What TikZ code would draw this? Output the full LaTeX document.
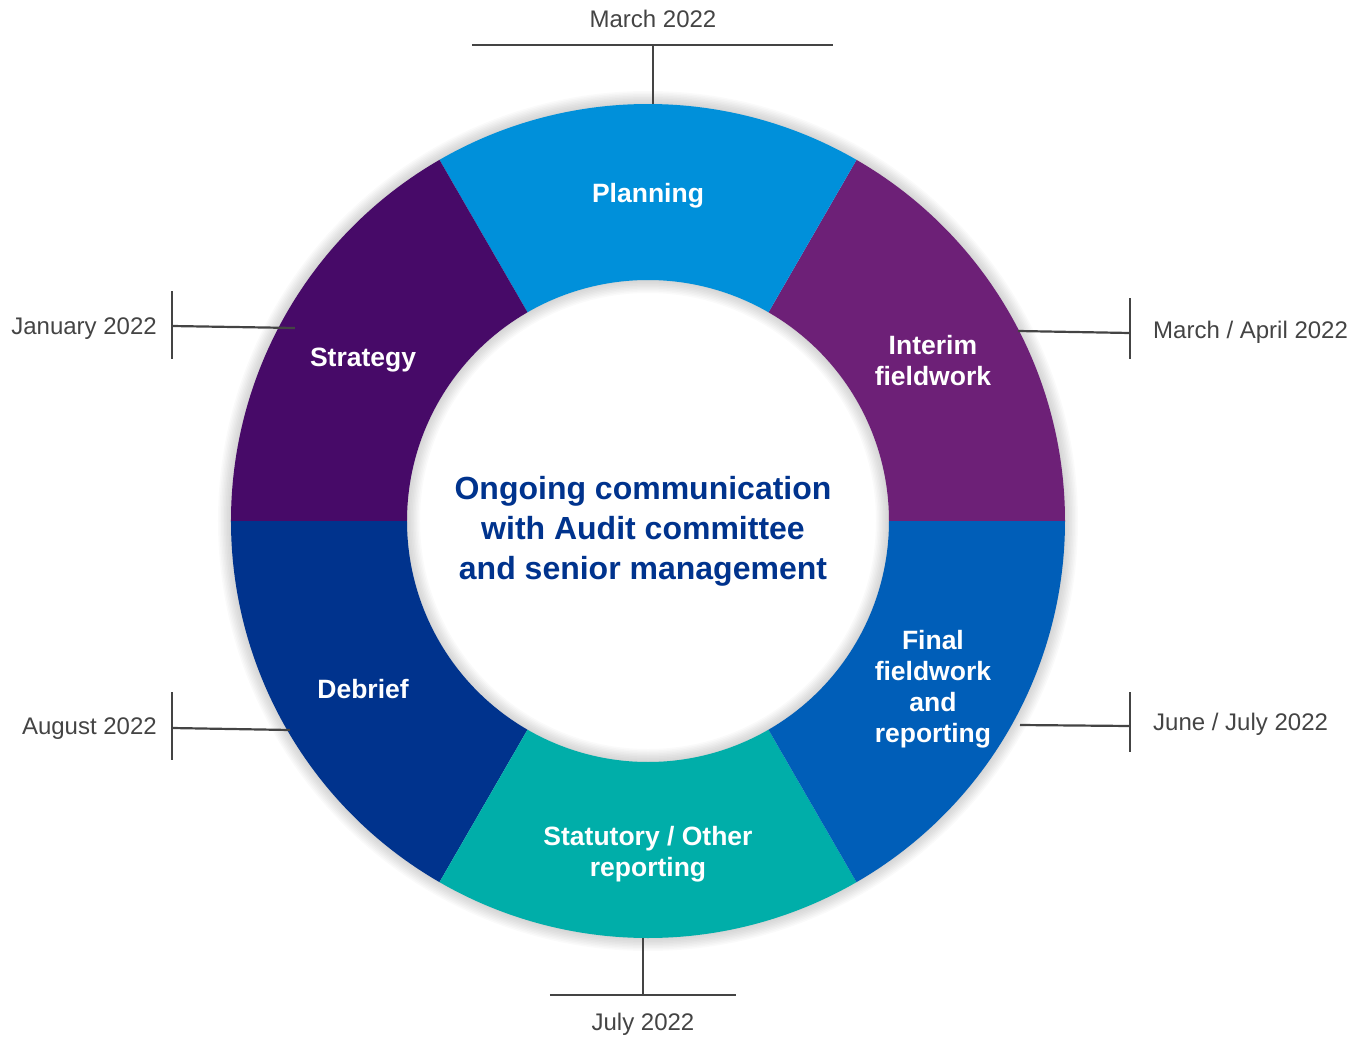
\documentclass[tikz,border=0pt]{standalone}
\usepackage{fontspec}
\setmainfont{Liberation Sans}
\definecolor{planblue}{HTML}{0090DA}
\definecolor{stratviolet}{HTML}{470A68}
\definecolor{interimpurple}{HTML}{6D2077}
\definecolor{finalblue}{HTML}{005EB8}
\definecolor{statteal}{HTML}{00AEA9}
\definecolor{debriefblue}{HTML}{00338D}
\definecolor{dategray}{HTML}{444444}
\tikzset{
  seglabel/.style={text=white,align=center,yshift=-4pt,font=\fontsize{26.5}{31}\selectfont\bfseries},
  datelabel/.style={text=dategray,inner sep=0pt,font=\fontsize{24}{28}\selectfont},
  tick/.style={draw=dategray,line width=2.2pt}
}
\begin{document}
\begin{tikzpicture}[x=1pt,y=1pt]
\useasboundingbox (-648,-516) rectangle (704,521);
\foreach \w in {2,5,...,26}
  {\draw[black,opacity=0.02,line width=\w pt] (0,0) circle (417pt);
   \draw[black,opacity=0.02,line width=\w pt] (0,0) circle (241pt);}
\foreach \a/\c in {0/interimpurple,60/planblue,120/stratviolet,180/debriefblue,240/statteal,300/finalblue}
  \fill[\c] (\a:417pt) arc[start angle=\a,delta angle=60,radius=417pt]
    -- (\a+60:241pt) arc[start angle=\a+60,delta angle=-60,radius=241pt] -- cycle;
\node[seglabel] (planning) at (90:329pt) {Planning};
\node[seglabel] (strategy) at (150:329pt) {Strategy};
\node[seglabel] (interim) at (30:329pt) {Interim\\fieldwork};
\node[seglabel] (final) at (-30:329pt) {Final\\fieldwork\\and\\reporting};
\node[seglabel] (debrief) at (210:329pt) {Debrief};
\node[seglabel] (statutory) at (270:329pt) {Statutory / Other\\reporting};
\node[text=debriefblue,align=center,font=\fontsize{32}{40}\selectfont\bfseries] (centre) at (-5,-10)
  {Ongoing communication\\with Audit committee\\and senior management};
\node[datelabel] (mar) at (5,502) {March 2022};
\coordinate (mar-l) at (-176,476);
\coordinate (mar-r) at (185,476);
\coordinate (mar-m) at (5,476);
\coordinate (mar-e) at (5,417);
\draw[tick] (mar-l) -- (mar-r);
\draw[tick] (mar-m) -- (mar-e);
\node[datelabel] (jul) at (-5,-503) {July 2022};
\coordinate (jul-l) at (-98,-474);
\coordinate (jul-r) at (88,-474);
\coordinate (jul-m) at (-5,-474);
\coordinate (jul-e) at (-5,-417);
\draw[tick] (jul-l) -- (jul-r);
\draw[tick] (jul-m) -- (jul-e);
\node[datelabel,anchor=east] (jan) at (-491,192) {January 2022};
\coordinate (jan-t) at (-476,230);
\coordinate (jan-b) at (-476,162);
\coordinate (jan-m) at (-476,195);
\coordinate (jan-e) at (-353,193);
\draw[tick] (jan-t) -- (jan-b);
\draw[tick] (jan-m) -- (jan-e);
\node[datelabel,anchor=east] (aug) at (-491,-208) {August 2022};
\coordinate (aug-t) at (-476,-171);
\coordinate (aug-b) at (-476,-239);
\coordinate (aug-m) at (-476,-207);
\coordinate (aug-e) at (-358,-209);
\draw[tick] (aug-t) -- (aug-b);
\draw[tick] (aug-m) -- (aug-e);
\node[datelabel,anchor=west] (marapr) at (505,189) {March / April 2022};
\coordinate (marapr-t) at (482,223);
\coordinate (marapr-b) at (482,162);
\coordinate (marapr-m) at (482,188);
\coordinate (marapr-e) at (370,190);
\draw[tick] (marapr-t) -- (marapr-b);
\draw[tick] (marapr-m) -- (marapr-e);
\node[datelabel,anchor=west] (junjul) at (505,-203) {June / July 2022};
\coordinate (junjul-t) at (482,-171);
\coordinate (junjul-b) at (482,-231);
\coordinate (junjul-m) at (482,-205);
\coordinate (junjul-e) at (372,-204);
\draw[tick] (junjul-t) -- (junjul-b);
\draw[tick] (junjul-m) -- (junjul-e);
\end{tikzpicture}
\end{document}
